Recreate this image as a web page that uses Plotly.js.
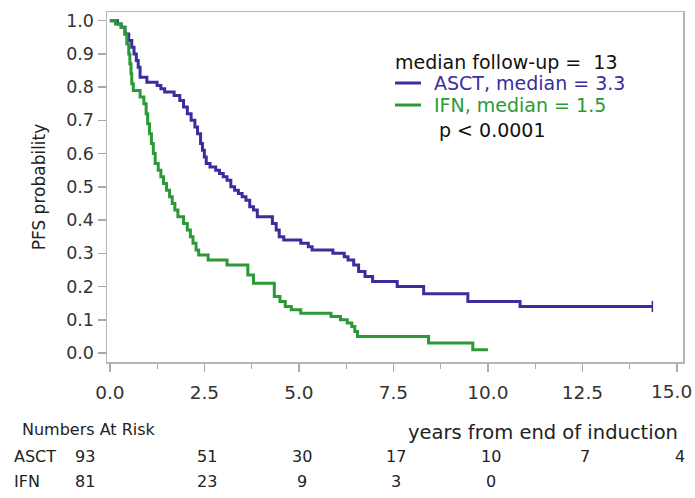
<!DOCTYPE html>
<html>
<head>
<meta charset="utf-8">
<script src="https://cdn.plot.ly/plotly-3.0.1.min.js"></script>
<style>html,body{margin:0;padding:0;background:#fff;}#chart{width:695px;height:498px;}</style>
</head>
<body>
<div id="chart"></div>
<script>
// ---- Data ----
const asctTime = [0, 0.2, 0.3, 0.4, 0.5, 0.58, 0.64, 0.7, 0.75, 0.8, 0.98, 1.25, 1.35, 1.45, 1.7, 1.85, 1.95, 2.05, 2.15, 2.25, 2.32, 2.4, 2.45, 2.5, 2.55, 2.65, 2.8, 2.9, 3.0, 3.1, 3.2, 3.3, 3.4, 3.5, 3.6, 3.7, 3.8, 3.9, 4.3, 4.4, 4.48, 4.6, 5.05, 5.25, 5.35, 5.9, 6.2, 6.3, 6.45, 6.58, 6.75, 6.95, 7.6, 8.3, 9.47, 10.85, 14.35];
const asctSurv = [1.0, 0.99, 0.98, 0.96, 0.94, 0.92, 0.9, 0.88, 0.86, 0.83, 0.815, 0.805, 0.795, 0.785, 0.775, 0.76, 0.74, 0.72, 0.7, 0.68, 0.66, 0.63, 0.61, 0.59, 0.57, 0.56, 0.55, 0.54, 0.53, 0.52, 0.5, 0.49, 0.48, 0.47, 0.46, 0.44, 0.43, 0.41, 0.39, 0.37, 0.35, 0.34, 0.33, 0.32, 0.31, 0.3, 0.29, 0.28, 0.265, 0.245, 0.23, 0.215, 0.2, 0.178, 0.155, 0.14, 0.14];

const ifnTime = [0, 0.15, 0.3, 0.4, 0.45, 0.5, 0.53, 0.56, 0.58, 0.62, 0.8, 0.9, 0.96, 1.0, 1.05, 1.1, 1.15, 1.2, 1.28, 1.35, 1.42, 1.5, 1.58, 1.65, 1.72, 1.8, 1.95, 2.05, 2.13, 2.2, 2.28, 2.35, 2.6, 3.1, 3.65, 3.8, 4.35, 4.5, 4.64, 4.8, 5.05, 5.85, 6.1, 6.28, 6.4, 6.48, 6.55, 8.43, 9.6, 10.0];
const ifnSurv = [1.0, 0.99, 0.98, 0.96, 0.93, 0.9, 0.87, 0.84, 0.81, 0.79, 0.77, 0.75, 0.72, 0.69, 0.66, 0.63, 0.6, 0.57, 0.55, 0.53, 0.51, 0.49, 0.47, 0.45, 0.43, 0.41, 0.39, 0.37, 0.35, 0.33, 0.31, 0.295, 0.28, 0.265, 0.235, 0.21, 0.17, 0.155, 0.14, 0.13, 0.12, 0.11, 0.1, 0.09, 0.08, 0.065, 0.05, 0.03, 0.01, 0.01];

const xTickVals = [0, 2.5, 5, 7.5, 10, 12.5, 15];
const xTickText = ["0.0", "2.5", "5.0", "7.5", "10.0", "12.5", "15.0"];

const riskTimes = [0, 2.5, 5, 7.5, 10, 12.5, 15];
const riskASCT = [93, 51, 30, 17, 10, 7, 4];
const riskIFN = [81, 23, 9, 3, 0];

const groupNames = ["ASCT", "IFN"];
const medians = [3.3, 1.5];
const medianFollowUp = 13;
const pText = "p < 0.0001";

// ---- Styling ----
const colASCT = "#3a2e9e";
const colIFN = "#2b9a36";
const FONT = "DejaVu Sans, Verdana, sans-serif";

const L = 107, R = 12, T = 12, B = 136, W = 695, H = 498;
const pw = W - L - R, ph = H - T - B;
const px = v => (v - L) / pw;        // pixel -> paper x
const py = v => (H - B - v) / ph;    // pixel -> paper y

const traces = [
  {x: asctTime, y: asctSurv, type: "scatter", mode: "lines", line: {shape: "hv", color: colASCT, width: 3}, name: groupNames[0], showlegend: false, hoverinfo: "skip"},
  {x: ifnTime, y: ifnSurv, type: "scatter", mode: "lines", line: {shape: "hv", color: colIFN, width: 3}, name: groupNames[1], showlegend: false, hoverinfo: "skip"},
  {x: [asctTime[asctTime.length-1]], y: [asctSurv[asctSurv.length-1]], type: "scatter", mode: "markers",
   marker: {symbol: "line-ns-open", size: 8, color: colASCT, line: {color: colASCT, width: 1.5}}, showlegend: false, hoverinfo: "skip"}
];

const annotations = [];
const shapes = [];

// legend block
annotations.push({xref: "paper", yref: "paper", x: px(393), y: py(62), xanchor: "left", yanchor: "middle",
  text: "median follow-up =  " + medianFollowUp, showarrow: false, font: {family: FONT, size: 19, color: "#111"}});
const legCols = [colASCT, colIFN];
const legY = [83, 105];
for (let i = 0; i < 2; i++) {
  shapes.push({type: "line", xref: "paper", yref: "paper", x0: px(395), x1: px(421), y0: py(legY[i]), y1: py(legY[i]),
    line: {color: legCols[i], width: 3}});
  annotations.push({xref: "paper", yref: "paper", x: px(432), y: py(legY[i]), xanchor: "left", yanchor: "middle",
    text: groupNames[i] + ", median = " + medians[i], showarrow: false, font: {family: FONT, size: 19, color: legCols[i]}});
}
annotations.push({xref: "paper", yref: "paper", x: px(437), y: py(130), xanchor: "left", yanchor: "middle",
  text: pText, showarrow: false, font: {family: FONT, size: 19, color: "#111"}});

// last x tick label, kept inside the page edge
const tickFont = {family: FONT, size: 18.5, color: "#333"};
const lastTick = xTickText.length - 1;
annotations.push({xref: "paper", yref: "paper", x: px(694), y: py(392), xanchor: "right", yanchor: "middle",
  text: xTickText[lastTick], showarrow: false, font: tickFont});
const shownTickText = xTickText.map((t, i) => i === lastTick ? "" : t);

// x axis title (right aligned under the axis)
annotations.push({xref: "x", yref: "paper", x: 15, y: py(432), xanchor: "right", yanchor: "middle", xshift: 3,
  text: "years from end of induction", showarrow: false, font: {family: FONT, size: 19.5, color: "#222"}});

// numbers at risk
const riskFont = {family: FONT, size: 16, color: "#222"};
annotations.push({xref: "paper", yref: "paper", x: px(20), y: py(429), xanchor: "left", yanchor: "middle",
  text: "Numbers At Risk", showarrow: false, font: riskFont});
const rowY = [456, 481];
const rows = [riskASCT, riskIFN];
for (let r = 0; r < 2; r++) {
  annotations.push({xref: "paper", yref: "paper", x: px(12), y: py(rowY[r]), xanchor: "left", yanchor: "middle",
    text: groupNames[r], showarrow: false, font: riskFont});
  rows[r].forEach((n, i) => {
    annotations.push({xref: "x", yref: "paper", x: riskTimes[i], y: py(rowY[r]), xanchor: "center", yanchor: "middle",
      xshift: i === 0 ? -25 : 3, text: String(n), showarrow: false, font: riskFont});
  });
}

const layout = {
  width: W, height: H,
  margin: {l: L, r: R, t: T, b: B, pad: 0},
  paper_bgcolor: "#fff", plot_bgcolor: "#fff",
  showlegend: false,
  font: {family: FONT, color: "#222"},
  xaxis: {
    range: [-0.075, 15.16], tickvals: xTickVals, ticktext: shownTickText,
    ticks: "outside", ticklen: 8, tickwidth: 1.5, tickcolor: "#aaa",
    minor: {tickvals: [1.25, 3.75, 6.25, 8.75, 11.25, 13.75], ticks: "outside", ticklen: 5, tickcolor: "#aaa", tickwidth: 1.2},
    showline: true, mirror: true, linecolor: "#b5b5b5", linewidth: 1.5,
    showgrid: false, zeroline: false, ticklabelstandoff: 5,
    tickfont: tickFont
  },
  yaxis: {
    range: [-0.027, 1.026], tick0: 0, dtick: 0.1, tickformat: ".1f",
    ticks: "outside", ticklen: 8, tickwidth: 1.5, tickcolor: "#aaa",
    showline: true, mirror: true, linecolor: "#b5b5b5", linewidth: 1.5,
    showgrid: false, zeroline: false,
    tickfont: {family: FONT, size: 17.5, color: "#333"},
    title: {text: "PFS probability", font: {family: FONT, size: 17, color: "#222"}, standoff: 16}
  },
  annotations: annotations,
  shapes: shapes
};

Plotly.newPlot("chart", traces, layout, {staticPlot: true, displayModeBar: false});
</script>
</body>
</html>
